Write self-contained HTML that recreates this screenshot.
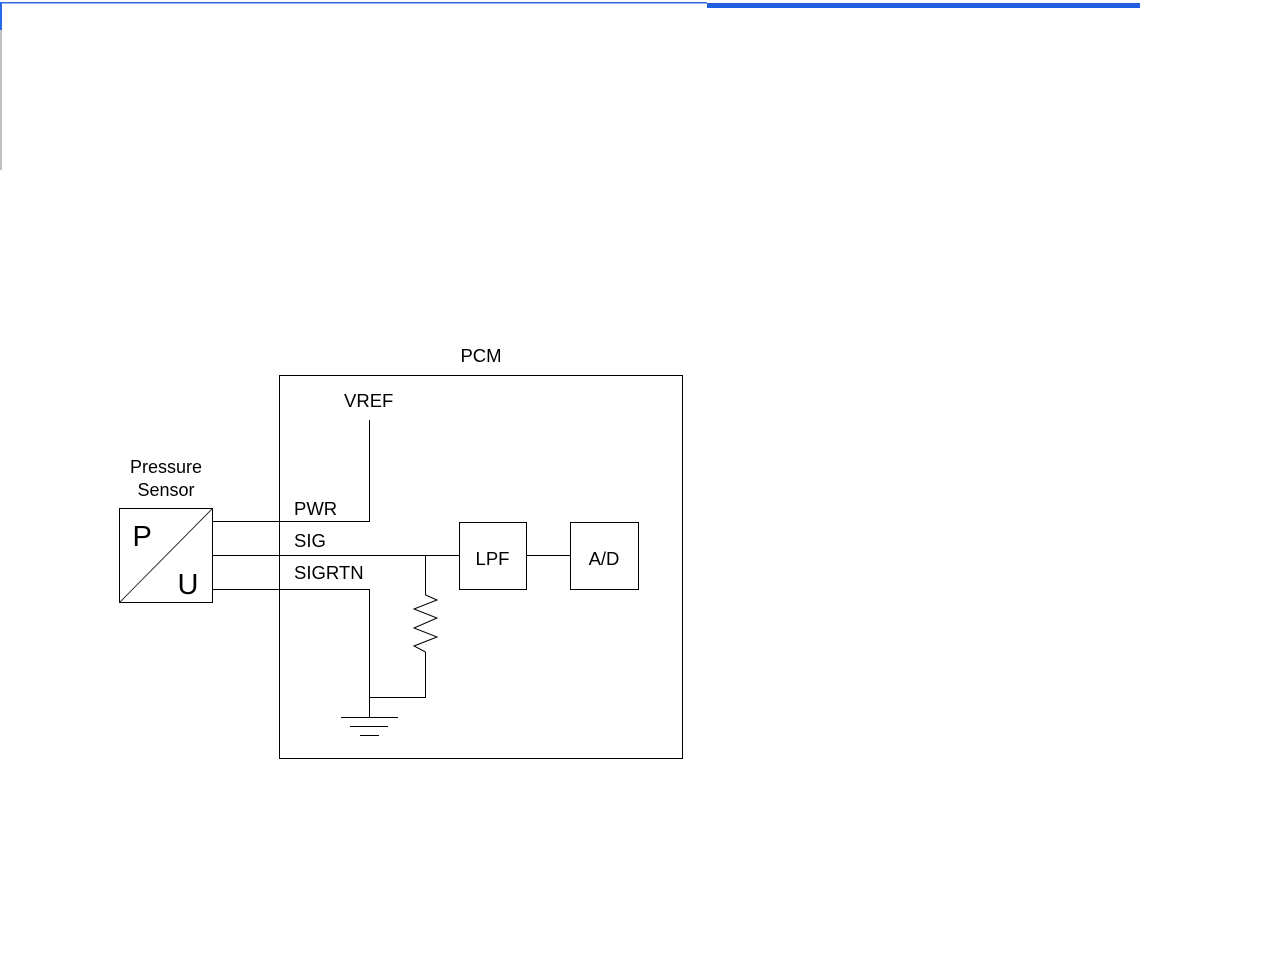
<!DOCTYPE html>
<html>
<head>
<meta charset="utf-8">
<style>
  html, body { margin: 0; padding: 0; background: #fff; }
  body { width: 1280px; height: 959px; overflow: hidden; position: relative; }
  svg { position: absolute; left: 0; top: 0; }
  text { font-family: "Liberation Sans", Arial, sans-serif; fill: #000; }
</style>
</head>
<body>
<svg width="1280" height="959" viewBox="0 0 1280 959" xmlns="http://www.w3.org/2000/svg">
  <!-- top blue artifacts -->
  <rect x="0" y="2" width="707" height="1.5" fill="#2a6ae6"/>
  <rect x="707" y="3" width="433" height="5" fill="#1f5fe0"/>
  <rect x="0" y="2" width="2" height="28" fill="#2a6ae6"/>
  <rect x="0" y="30" width="2" height="140" fill="#9a9a9a" opacity="0.6"/>

  <g stroke="#000" stroke-width="1.2" fill="none" shape-rendering="crispEdges">
    <!-- PCM box -->
    <rect x="279.5" y="375.5" width="403" height="383"/>
    <!-- Sensor box -->
    <rect x="119.5" y="508.5" width="93" height="94"/>
    <!-- LPF & A/D -->
    <rect x="459.5" y="522.5" width="67" height="67"/>
    <rect x="570.5" y="522.5" width="68" height="67"/>
    <!-- VREF / PWR -->
    <polyline points="369.5,420 369.5,521.5 213,521.5"/>
    <!-- SIG -->
    <line x1="213" y1="555.5" x2="459.5" y2="555.5"/>
    <line x1="526.5" y1="555.5" x2="570.5" y2="555.5"/>
    <!-- SIGRTN -->
    <polyline points="213,589.5 369.5,589.5 369.5,717"/>
    <!-- ground bottom link -->
    <polyline points="369.5,697.5 425.5,697.5 425.5,652"/>
    <line x1="425.5" y1="555.5" x2="425.5" y2="595"/>
    <!-- ground symbol -->
    <line x1="341" y1="717.5" x2="398" y2="717.5"/>
    <line x1="350" y1="726.5" x2="388" y2="726.5"/>
    <line x1="360" y1="735.5" x2="379" y2="735.5"/>
  </g>
  <!-- resistor zigzag -->
  <polyline points="425.5,595 437,600 414,609 437,618 414,628 437,637 414,646 425.5,652" stroke="#000" stroke-width="1" fill="none"/>
  <!-- diagonal -->
  <line x1="120" y1="602" x2="212" y2="509" stroke="#333" stroke-width="1"/>

  <!-- labels -->
  <text x="481" y="362" font-size="18.5" text-anchor="middle">PCM</text>
  <text x="344" y="407" font-size="18.5">VREF</text>
  <text x="166" y="473" font-size="18" text-anchor="middle">Pressure</text>
  <text x="166" y="496" font-size="18" text-anchor="middle">Sensor</text>
  <text x="294" y="515" font-size="18.5">PWR</text>
  <text x="294" y="547" font-size="18.5">SIG</text>
  <text x="294" y="579" font-size="18.5">SIGRTN</text>
  <text x="492.5" y="565" font-size="18.5" text-anchor="middle">LPF</text>
  <text x="604" y="565" font-size="18.5" text-anchor="middle">A/D</text>
  <text x="132.5" y="546" font-size="29">P</text>
  <text x="177.5" y="594" font-size="29">U</text>
</svg>
</body>
</html>
